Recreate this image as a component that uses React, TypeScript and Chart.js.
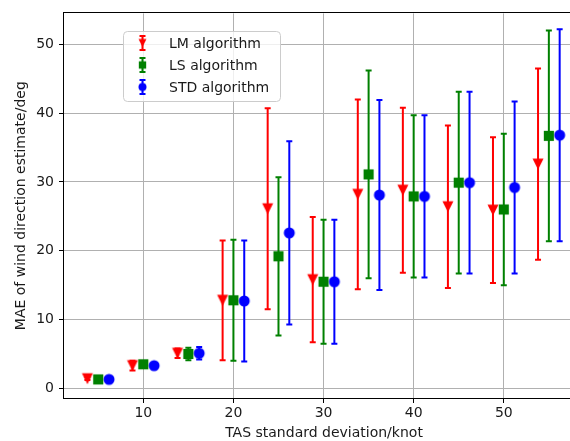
import React, { useEffect, useRef } from "react";
import { Chart, registerables } from "chart.js";

Chart.register(...registerables);

// ---- data ----
const tasStd = [5, 10, 15, 20, 25, 30, 35, 40, 45, 50, 55];
const lmMean = [1.4, 3.3, 5.1, 12.8, 26.1, 15.8, 28.2, 28.8, 26.4, 25.9, 32.6];
const lmErr = [0.2, 0.7, 0.7, 8.7, 14.6, 9.1, 13.8, 12.0, 11.8, 10.6, 13.9];
const lsMean = [1.3, 3.5, 5.0, 12.8, 19.2, 15.5, 31.1, 27.9, 29.9, 26.0, 36.7];
const lsErr = [0.2, 0.3, 0.9, 8.8, 11.5, 9.0, 15.1, 11.8, 13.2, 11.0, 15.3];
const stdMean = [1.3, 3.3, 5.1, 12.7, 22.6, 15.5, 28.1, 27.9, 29.9, 29.2, 36.8];
const stdErr = [0.2, 0.3, 0.9, 8.8, 13.3, 9.0, 13.8, 11.8, 13.2, 12.5, 15.4];
const seriesShift = [-1.2, 0, 1.2];
const seriesLabels = ["LM algorithm", "LS algorithm", "STD algorithm"];
const seriesColors = ["#ff0000", "#008000", "#0000ff"];
const seriesShapes = ["tri", "square", "circle"];
const xTicks = [10, 20, 30, 40, 50];
const yTicks = [0, 10, 20, 30, 40, 50];
const xTitle = "TAS standard deviation/knot";
const yTitle = "MAE of wind direction estimate/deg";

const FONT = "'DejaVu Sans', sans-serif";
const TEXT = "#1a1a1a";

function makeMarker(shape: string, color: string, size: number): HTMLCanvasElement {
  const dim = Math.ceil(size) + 3;
  const c = document.createElement("canvas");
  c.width = dim;
  c.height = dim;
  const g = c.getContext("2d")!;
  const m = dim / 2;
  const h = size / 2;
  g.fillStyle = color;
  g.beginPath();
  if (shape === "tri") {
    g.moveTo(m - h, m - h);
    g.lineTo(m + h, m - h);
    g.lineTo(m, m + h);
    g.closePath();
  } else if (shape === "square") {
    const s = h * 0.92;
    g.rect(m - s, m - s, 2 * s, 2 * s);
  } else {
    g.arc(m, m, h, 0, Math.PI * 2);
  }
  g.fill();
  return c;
}

const errorBarPlugin = {
  id: "errorBars",
  beforeDatasetsDraw(chart: any) {
    const { ctx } = chart;
    const xs = chart.scales.x;
    const ys = chart.scales.y;
    ctx.save();
    chart.data.datasets.forEach((ds: any) => {
      ctx.strokeStyle = ds.errColor;
      ctx.lineWidth = 2;
      ds.data.forEach((p: any) => {
        const px = xs.getPixelForValue(p.x);
        const y1 = ys.getPixelForValue(p.y - p.err);
        const y2 = ys.getPixelForValue(p.y + p.err);
        ctx.beginPath();
        ctx.moveTo(px, y1);
        ctx.lineTo(px, y2);
        ctx.moveTo(px - 3, y1);
        ctx.lineTo(px + 3, y1);
        ctx.moveTo(px - 3, y2);
        ctx.lineTo(px + 3, y2);
        ctx.stroke();
      });
    });
    ctx.restore();
  },
  afterDatasetsDraw(chart: any) {
    const { ctx, chartArea: a } = chart;
    ctx.save();
    ctx.strokeStyle = "#000";
    ctx.lineWidth = 1;
    ctx.strokeRect(Math.round(a.left) - 0.5, Math.round(a.top) - 0.5, Math.round(a.right - a.left) + 1, Math.round(a.bottom - a.top) + 1);
    ctx.restore();
  },
  afterDraw(chart: any) {
    const { ctx } = chart;
    ctx.save();
    // legend box
    const bx = 123.5, by = 31.5, bw = 157, bh = 70;
    ctx.beginPath();
    (ctx as any).roundRect(bx, by, bw, bh, 4);
    ctx.fillStyle = "rgba(255,255,255,0.8)";
    ctx.fill();
    ctx.strokeStyle = "#cccccc";
    ctx.lineWidth = 1;
    ctx.stroke();
    ctx.font = `14px ${FONT}`;
    ctx.textBaseline = "middle";
    ctx.textAlign = "left";
    chart.data.datasets.forEach((ds: any, i: number) => {
      const cy = 43 + i * 22;
      const mx = 142.5;
      ctx.strokeStyle = ds.errColor;
      ctx.lineWidth = 2;
      ctx.beginPath();
      ctx.moveTo(mx, cy - 7);
      ctx.lineTo(mx, cy + 7);
      ctx.moveTo(mx - 3, cy - 7);
      ctx.lineTo(mx + 3, cy - 7);
      ctx.moveTo(mx - 3, cy + 7);
      ctx.lineTo(mx + 3, cy + 7);
      ctx.stroke();
      const img = ds.legendMarker as HTMLCanvasElement;
      ctx.drawImage(img, mx - img.width / 2, cy - img.height / 2);
      ctx.fillStyle = TEXT;
      ctx.fillText(ds.label, 169, cy + 1);
    });
    ctx.restore();
  },
};

export default function App() {
  const ref = useRef<HTMLCanvasElement | null>(null);

  useEffect(() => {
    if (!ref.current) return;
    const means = [lmMean, lsMean, stdMean];
    const errs = [lmErr, lsErr, stdErr];
    const datasets = seriesLabels.map((label, i) => ({
      label,
      data: tasStd.map((x, j) => ({ x: x + seriesShift[i], y: means[i][j], err: errs[i][j] })),
      pointStyle: makeMarker(seriesShapes[i], seriesColors[i], 11),
      legendMarker: makeMarker(seriesShapes[i], seriesColors[i], 8),
      pointRadius: 6,
      backgroundColor: seriesColors[i],
      borderColor: seriesColors[i],
      errColor: seriesColors[i],
      showLine: false,
    }));

    const chart = new Chart(ref.current, {
      type: "scatter",
      data: { datasets: datasets as any },
      options: {
        animation: false,
        responsive: false,
        devicePixelRatio: 1,
        layout: { padding: { top: 12, right: 16, left: 0, bottom: 0 } },
        plugins: { legend: { display: false }, tooltip: { enabled: false } },
        scales: {
          x: {
            type: "linear",
            min: 1.2,
            max: 58.9,
            afterFit: (s: any) => { s.height = 43; },
            afterBuildTicks: (s: any) => { s.ticks = xTicks.map((v) => ({ value: v })); },
            grid: { color: "#b0b0b0", lineWidth: 1, tickLength: 5, tickColor: "#000" },
            border: { display: false },
            ticks: { font: { family: FONT, size: 14 }, color: TEXT, padding: 2, maxRotation: 0 },
            title: { display: true, text: xTitle, font: { family: FONT, size: 14 }, color: TEXT, padding: { top: 0, bottom: -1 } },
          },
          y: {
            type: "linear",
            min: -1.4,
            max: 54.5,
            afterFit: (s: any) => { s.width = 64; },
            afterBuildTicks: (s: any) => { s.ticks = yTicks.map((v) => ({ value: v })); },
            grid: { color: "#b0b0b0", lineWidth: 1, tickLength: 5, tickColor: "#000" },
            border: { display: false },
            ticks: { font: { family: FONT, size: 14 }, color: TEXT, padding: 5 },
            title: { display: true, text: yTitle, font: { family: FONT, size: 14 }, color: TEXT, padding: { top: 13, bottom: 0 } },
          },
        },
      },
      plugins: [errorBarPlugin as any],
    });
    return () => chart.destroy();
  }, []);

  return (
    <div style={{ position: "absolute", left: 0, top: 0, width: 570, height: 441, overflow: "hidden", background: "#fff" }}>
      <canvas ref={ref} width={600} height={441} style={{ display: "block" }} />
    </div>
  );
}
